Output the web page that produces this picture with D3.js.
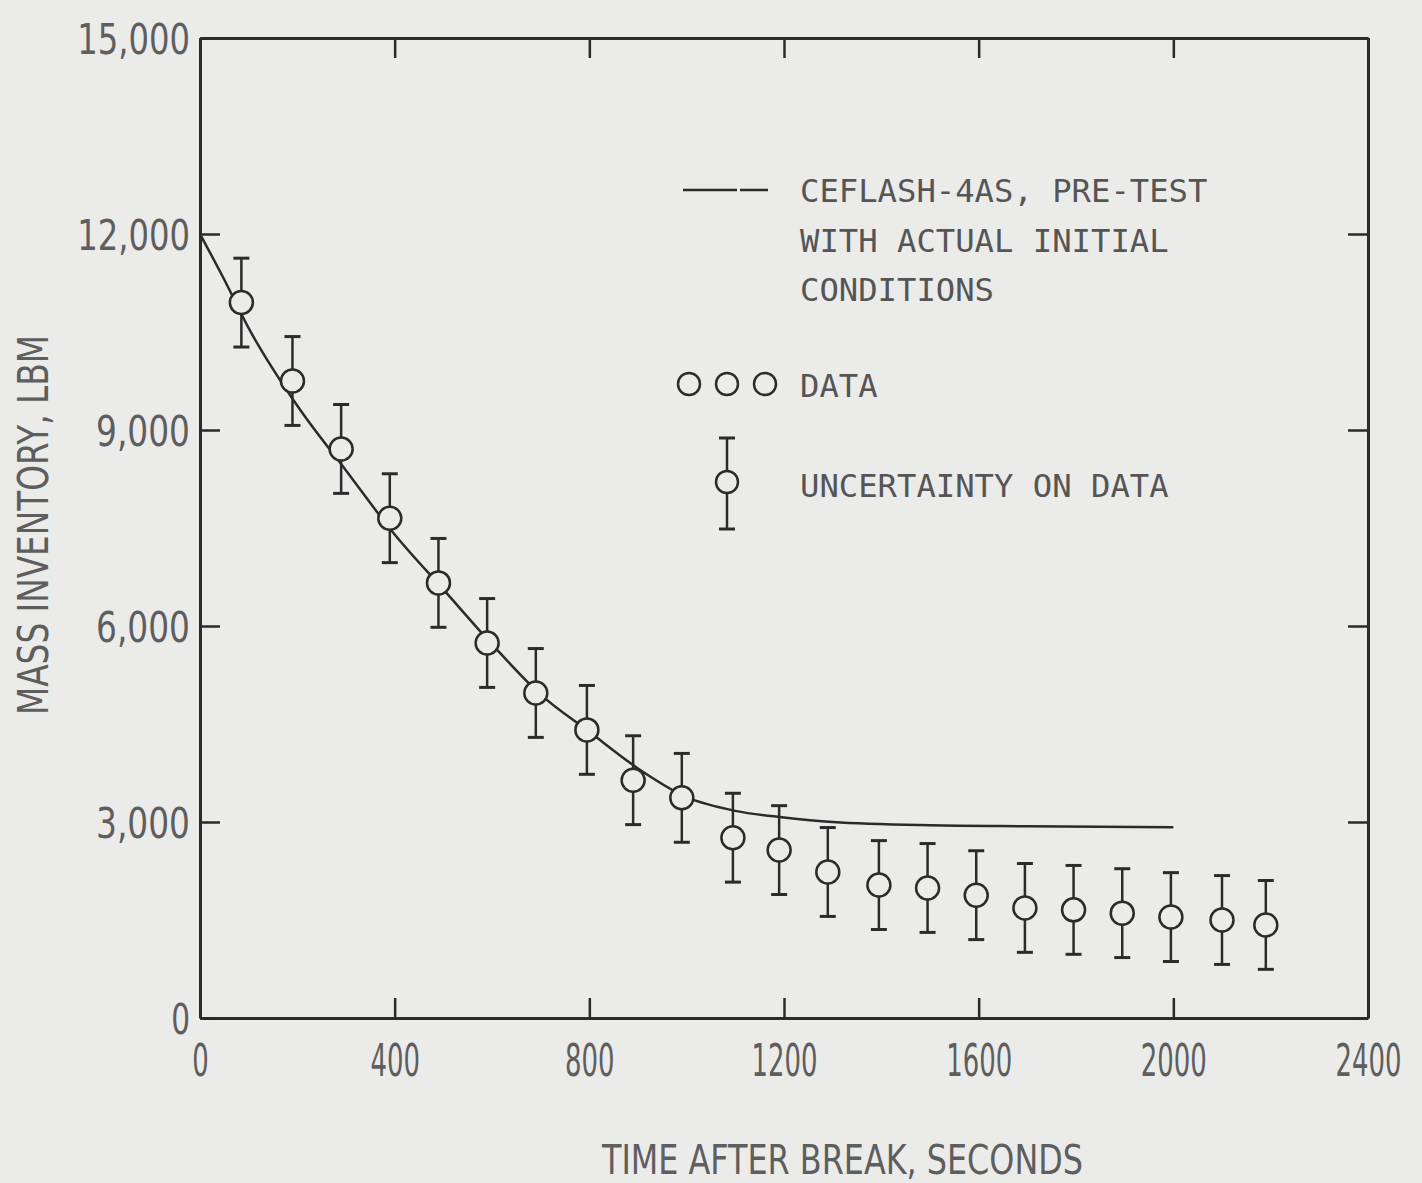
<!DOCTYPE html>
<html>
<head>
<meta charset="utf-8">
<script src="https://cdn.jsdelivr.net/npm/d3@7"></script>
<style>
  html, body { margin: 0; padding: 0; background: #ebebea; }
  svg { display: block; }
</style>
</head>
<body>
<script>
// ---- data ----
const dataTimes = [85, 190, 290, 390, 490, 590, 690, 795, 890, 990, 1095, 1190, 1290, 1395, 1495, 1595, 1695, 1795, 1895, 1995, 2100, 2190];
const dataMass  = [10950, 9750, 8710, 7650, 6660, 5740, 4975, 4410, 3640, 3370, 2760, 2570, 2235, 2035, 1990, 1880, 1685, 1655, 1605, 1545, 1500, 1425];
const uncertainty = 680;

const calcTimes = [0, 50, 100, 200, 300, 400, 500, 600, 700, 800, 900, 1000, 1100, 1200, 1300, 1500, 1700, 2000];
const calcMass  = [12000, 11300, 10560, 9370, 8380, 7400, 6560, 5720, 4950, 4380, 3820, 3380, 3170, 3070, 3000, 2950, 2935, 2920];

const xTicks = [0, 400, 800, 1200, 1600, 2000, 2400];
const yTicks = [0, 3000, 6000, 9000, 12000, 15000];

const legendCalc = ["CEFLASH-4AS, PRE-TEST", "WITH ACTUAL INITIAL", "CONDITIONS"];
const legendData = "DATA";
const legendUnc = "UNCERTAINTY ON DATA";
const xTitle = "TIME AFTER BREAK, SECONDS";
const yTitle = "MASS INVENTORY, LBM";

// ---- layout ----
const W = 1422, H = 1183;
const L = 200, R = 1368, T = 38, B = 1018;
const ink = "#2b2b2b", textCol = "#5e5e5e";
const paper = "#ebebea";

const svg = d3.select("body").append("svg").attr("width", W).attr("height", H);
svg.append("rect").attr("width", W).attr("height", H).attr("fill", paper);

const x = d3.scaleLinear().domain([0, 2400]).range([L, R]);
const y = d3.scaleLinear().domain([0, 15000]).range([B, T]);

const labelFont = "'Liberation Sans Narrow', 'DejaVu Sans Condensed', 'DejaVu Sans', sans-serif";

// squeeze a text horizontally to a target width (keeps anchor point)
function squeeze(sel, widthFn) {
  sel.each(function (d) {
    const nat = this.getComputedTextLength();
    const w = widthFn(d);
    if (nat > 0) d3.select(this).attr("transform", `scale(${w / nat},1)`);
  });
}

// axes
function styleAxis(g) {
  g.select(".domain").attr("stroke", ink).attr("stroke-width", 3);
  g.selectAll(".tick line").attr("stroke", ink).attr("stroke-width", 2.5);
}
const gx = svg.append("g").attr("transform", `translate(0,${B})`)
  .call(d3.axisBottom(x).tickValues(xTicks).tickSizeInner(-20).tickSizeOuter(0).tickPadding(26).tickFormat(d3.format("d")));
styleAxis(gx);
gx.selectAll(".tick text")
  .attr("fill", textCol).attr("font-family", labelFont).attr("font-size", 45)
  .attr("font-weight", 300)
  .attr("dy", "0.71em")
  .call(squeeze, d => String(d).length * 16.5);

const gxt = svg.append("g").attr("transform", `translate(0,${T})`)
  .call(d3.axisTop(x).tickValues(xTicks).tickSizeInner(-20).tickSizeOuter(0).tickFormat(""));
styleAxis(gxt);

const gy = svg.append("g").attr("transform", `translate(${L},0)`)
  .call(d3.axisLeft(y).tickValues(yTicks).tickSizeInner(-20).tickSizeOuter(0).tickPadding(10).tickFormat(d3.format(",")));
styleAxis(gy);
gy.selectAll(".tick text")
  .attr("fill", textCol).attr("font-family", labelFont).attr("font-size", 42)
  .attr("font-weight", 300)
  .attr("dy", "0.36em")
  .attr("textLength", d => d3.format(",")(d).length * 18.8)
  .attr("lengthAdjust", "spacingAndGlyphs");

const gyr = svg.append("g").attr("transform", `translate(${R},0)`)
  .call(d3.axisRight(y).tickValues(yTicks).tickSizeInner(-20).tickSizeOuter(0).tickFormat(""));
styleAxis(gyr);

// axis titles
svg.append("text").text(xTitle)
  .attr("x", (602 + 1083) / 2).attr("y", 1174)
  .attr("text-anchor", "middle")
  .attr("fill", textCol).attr("font-family", labelFont).attr("font-size", 40).attr("font-weight", 300)
  .attr("textLength", 481).attr("lengthAdjust", "spacingAndGlyphs");

svg.append("text").text(yTitle)
  .attr("transform", `translate(48,${(335 + 715) / 2}) rotate(-90)`)
  .attr("text-anchor", "middle")
  .attr("fill", textCol).attr("font-family", labelFont).attr("font-size", 42).attr("font-weight", 300)
  .attr("textLength", 380).attr("lengthAdjust", "spacingAndGlyphs");

// calculated curve
const calc = calcTimes.map((t, i) => [t, calcMass[i]]);
svg.append("path").datum(calc)
  .attr("d", d3.line().x(d => x(d[0])).y(d => y(d[1])).curve(d3.curveMonotoneX))
  .attr("fill", "none").attr("stroke", ink).attr("stroke-width", 2.5);

// data with error bars
const pts = dataTimes.map((t, i) => ({ t, m: dataMass[i] }));
const capW = 8;
const eg = svg.append("g").attr("stroke", ink).attr("stroke-width", 2.5).attr("fill", "none");
const pg = eg.selectAll("g.pt").data(pts).join("g").attr("class", "pt");
pg.append("line").attr("x1", d => x(d.t)).attr("x2", d => x(d.t))
  .attr("y1", d => y(d.m + uncertainty)).attr("y2", d => y(d.m - uncertainty));
pg.append("line").attr("x1", d => x(d.t) - capW).attr("x2", d => x(d.t) + capW)
  .attr("y1", d => y(d.m + uncertainty)).attr("y2", d => y(d.m + uncertainty)).attr("stroke-width", 3);
pg.append("line").attr("x1", d => x(d.t) - capW).attr("x2", d => x(d.t) + capW)
  .attr("y1", d => y(d.m - uncertainty)).attr("y2", d => y(d.m - uncertainty)).attr("stroke-width", 3);
pg.append("circle").attr("cx", d => x(d.t)).attr("cy", d => y(d.m)).attr("r", 11.5)
  .attr("fill", paper);

// legend
const legFont = "'DejaVu Sans Mono', 'Liberation Mono', monospace";
const legCol = "#555555";
const lg = svg.append("g");
lg.append("line").attr("x1", 683).attr("x2", 768).attr("y1", 190).attr("y2", 190)
  .attr("stroke", ink).attr("stroke-width", 2.5).attr("stroke-dasharray", "54,3,40");
legendCalc.forEach((s, i) => {
  lg.append("text").text(s).attr("x", 800).attr("y", 202 + i * 49.5)
    .attr("fill", legCol).attr("font-family", legFont).attr("font-size", 31.5)
    .attr("textLength", s.length * 19.4).attr("lengthAdjust", "spacingAndGlyphs");
});
[689, 727, 765].forEach(cx => {
  lg.append("circle").attr("cx", cx).attr("cy", 384).attr("r", 11)
    .attr("fill", "none").attr("stroke", ink).attr("stroke-width", 2.5);
});
lg.append("text").text(legendData).attr("x", 800).attr("y", 397)
  .attr("fill", legCol).attr("font-family", legFont).attr("font-size", 31.5)
  .attr("textLength", 4 * 19.4).attr("lengthAdjust", "spacingAndGlyphs");
lg.append("line").attr("x1", 727).attr("x2", 727).attr("y1", 438).attr("y2", 529)
  .attr("stroke", ink).attr("stroke-width", 2.5);
[438, 529].forEach(yy => lg.append("line").attr("x1", 719).attr("x2", 735).attr("y1", yy).attr("y2", yy)
  .attr("stroke", ink).attr("stroke-width", 3));
lg.append("circle").attr("cx", 727).attr("cy", 482).attr("r", 11)
  .attr("fill", paper).attr("stroke", ink).attr("stroke-width", 2.5);
lg.append("text").text(legendUnc).attr("x", 800).attr("y", 497)
  .attr("fill", legCol).attr("font-family", legFont).attr("font-size", 31.5)
  .attr("textLength", legendUnc.length * 19.4).attr("lengthAdjust", "spacingAndGlyphs");
</script>
</body>
</html>
